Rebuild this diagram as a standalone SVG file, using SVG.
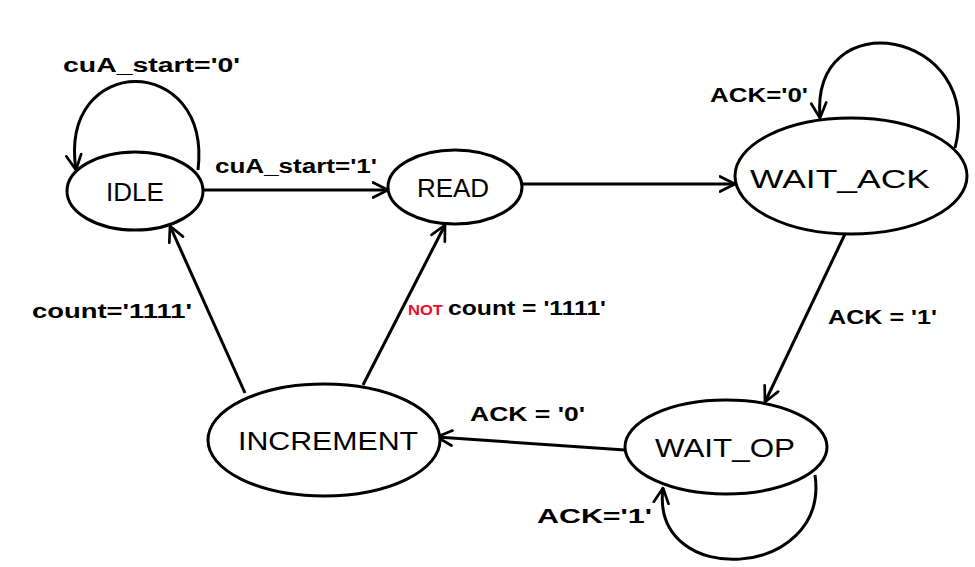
<svg xmlns="http://www.w3.org/2000/svg" width="975" height="567" viewBox="0 0 975 567">
<defs>
<style>
.node{fill:#fff;stroke:#000;stroke-width:3}
.edge{fill:none;stroke:#000;stroke-width:3;marker-end:url(#arr)}
.nl{font-family:"Liberation Sans",Arial,sans-serif;font-size:26px;text-anchor:middle;fill:#000}
.el{font-family:"Liberation Sans",Arial,sans-serif;font-size:20px;fill:#000;font-weight:bold}
.not{font-family:"Liberation Sans",Arial,sans-serif;font-size:15px;fill:#e8112d;font-weight:bold}
</style>
<marker id="arr" viewBox="0 0 12 12" refX="11" refY="6" markerWidth="6" markerHeight="6" orient="auto" markerUnits="strokeWidth">
<path d="M1,1 L11,6 L1,11" fill="none" stroke="#000" stroke-width="1.8" stroke-linecap="round" stroke-linejoin="round"/>
</marker>
</defs>
<rect width="975" height="567" fill="#fff"/>
<g id="connectors">
<path class="edge" d="M198,170 C212,52 58,52 76,170"/>
<path class="edge" d="M203,190 L388,190"/>
<path class="edge" d="M522,184 L735,184"/>
<path class="edge" d="M955,148 C985,30 810,0 820,118"/>
<path class="edge" d="M845,234 L765,402"/>
<path class="edge" d="M815,475 C830,580 650,590 663,488"/>
<path class="edge" d="M625,450 L437,437"/>
<path class="edge" d="M245,393 L170,226"/>
<path class="edge" d="M363,385 L445,225"/>
</g>
<g id="labels">
<text class="el" x="63" y="72" textLength="177" lengthAdjust="spacingAndGlyphs">cuA_start='0'</text>
<text class="el" x="215" y="173" textLength="162" lengthAdjust="spacingAndGlyphs">cuA_start='1'</text>
<text class="el" x="710" y="102" textLength="98" lengthAdjust="spacingAndGlyphs">ACK='0'</text>
<text class="el" x="828" y="324" textLength="109" lengthAdjust="spacingAndGlyphs">ACK = '1'</text>
<text class="el" x="470" y="421" textLength="115" lengthAdjust="spacingAndGlyphs">ACK = '0'</text>
<text class="el" x="537" y="523" textLength="115" lengthAdjust="spacingAndGlyphs">ACK='1'</text>
<text class="el" x="32" y="318" textLength="160" lengthAdjust="spacingAndGlyphs">count='1111'</text>
<text class="not" x="408" y="315" textLength="35" lengthAdjust="spacingAndGlyphs">NOT</text>
<text class="el" x="448" y="315" textLength="158" lengthAdjust="spacingAndGlyphs">count = '1111'</text>
</g>
<g id="IDLE"><ellipse class="node" cx="135" cy="191" rx="68" ry="39"/><text class="nl" x="135" y="201">IDLE</text></g>
<g id="READ"><ellipse class="node" cx="455" cy="187" rx="67" ry="37"/><text class="nl" x="453" y="197">READ</text></g>
<g id="WAIT_ACK"><ellipse class="node" cx="851" cy="176" rx="116" ry="58"/><text class="nl" x="840" y="188" textLength="180" lengthAdjust="spacingAndGlyphs">WAIT_ACK</text></g>
<g id="WAIT_OP"><ellipse class="node" cx="726" cy="447" rx="101" ry="47"/><text class="nl" x="725" y="457" textLength="140" lengthAdjust="spacingAndGlyphs">WAIT_OP</text></g>
<g id="INCREMENT"><ellipse class="node" cx="324" cy="440" rx="116" ry="56"/><text class="nl" x="328" y="450" textLength="180" lengthAdjust="spacingAndGlyphs">INCREMENT</text></g>
</svg>
